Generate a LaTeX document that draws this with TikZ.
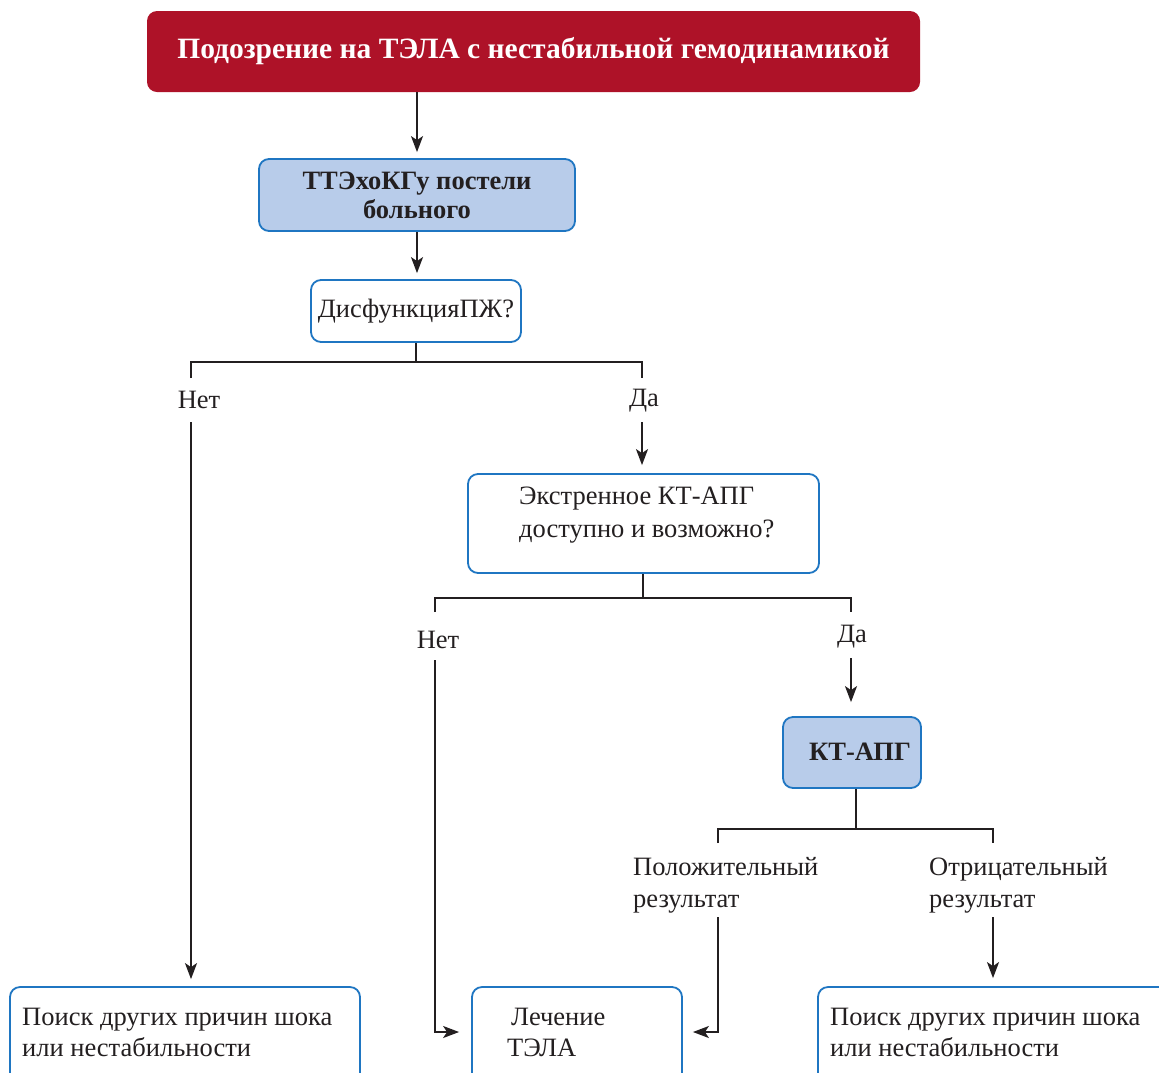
\documentclass[tikz,border=0pt]{standalone}
\usepackage{fontspec}
\setmainfont{Liberation Serif}
\usetikzlibrary{arrows.meta}
\definecolor{crimson}{HTML}{AE1228}
\definecolor{boxblue}{HTML}{1F76C2}
\definecolor{paleblue}{HTML}{B8CCEA}
\definecolor{ink}{HTML}{231F20}
\begin{document}
\begin{tikzpicture}[x=1pt,y=-1pt,
  box/.style={draw=boxblue, line width=1.8pt, rounded corners=10pt, fill=white, inner sep=0pt},
  bluebox/.style={box, fill=paleblue},
  txt/.style={font=\fontsize{26.5}{31}\selectfont, inner sep=0pt, align=left, text=ink},
  boldtxt/.style={txt, font=\fontsize{26.5}{29}\selectfont\bfseries},
  wire/.style={draw=ink, line width=1.8pt},
  arr/.style={wire, -{Stealth[length=16pt,width=12pt,inset=4pt]}}
]
\clip (0,0) rectangle (1159,1072);
\useasboundingbox (0,0) rectangle (1159,1072);

% title
\node[fill=crimson, rounded corners=10pt, minimum width=773pt, minimum height=81pt,
      text=white, font=\fontsize{29.5}{34}\selectfont\bfseries] (top) at (533.5,51.5)
      {Подозрение на ТЭЛА с нестабильной гемодинамикой};

% bedside echo
\node[bluebox, minimum width=316pt, minimum height=72pt, boldtxt, align=center] (echo) at (417,195)
      {ТТЭхоКГу постели\\больного};
\node[box, minimum width=210pt, minimum height=62pt, txt] (rv) at (416,311) {ДисфункцияПЖ?};

\node[txt] (no1) at (199,400) {Нет};
\node[txt] (yes1) at (644,401) {Да};

% CT availability
\node[box, minimum width=351pt, minimum height=99pt] (q2) at (643.5,523.5) {};
\node[txt, anchor=west, font=\fontsize{26.5}{33}\selectfont] (q2t) at (519,515.5) {Экстренное КТ-АПГ\\доступно и возможно?};

\node[txt] (no2) at (438,640) {Нет};
\node[txt] (yes2) at (852,637) {Да};

% CT
\node[bluebox, minimum width=138pt, minimum height=71pt] (ct) at (852,752.5) {};
\node[boldtxt] (ctt) at (860,752) {КТ-АПГ};

\node[txt, anchor=west, font=\fontsize{26.5}{32}\selectfont] (pos) at (633,885.5) {Положительный\\результат};
\node[txt, anchor=west, font=\fontsize{26.5}{32}\selectfont] (neg) at (929,885.5) {Отрицательный\\результат};

% outcomes
\node[box, minimum width=350pt, minimum height=113pt] (outl) at (185,1043.5) {};
\node[txt, anchor=west] (outlt) at (22,1032) {Поиск других причин шока\\или нестабильности};
\node[box, minimum width=210pt, minimum height=113pt] (outm) at (577,1043.5) {};
\node[txt, anchor=west] (outmt) at (507,1032) {\hspace*{4pt}Лечение\\ТЭЛА};
\node[box, minimum width=357pt, minimum height=113pt] (outr) at (996.5,1043.5) {};
\node[txt, anchor=west] (outrt) at (830,1032) {Поиск других причин шока\\или нестабильности};

% connectors
\draw[arr, shorten >=6pt] (top.south -| echo) -- (echo.north);
\draw[arr, shorten >=6pt] (echo.south) -- (echo.south |- rv.north);

\coordinate (j1) at (416,362);
\coordinate (j1l) at (191,362);
\coordinate (j1r) at (642,362);
\draw[wire] (rv.south) -- (j1);
\draw[wire] (j1l) ++(0,16) -- (j1l) -- (j1r) -- ++(0,16);
\coordinate (n1) at (191,422);
\coordinate (y1) at (642,422);
\draw[arr, shorten >=7pt] (n1) -- (n1 |- outl.north);
\draw[arr, shorten >=8pt] (y1) -- (y1 |- q2.north);

\coordinate (j2) at (643,598);
\coordinate (j2l) at (435,598);
\coordinate (j2r) at (851,598);
\draw[wire] (q2.south -| j2) -- (j2);
\draw[wire] (j2l) ++(0,14) -- (j2l) -- (j2r) -- ++(0,14);
\coordinate (n2) at (435,660);
\coordinate (y2) at (851,658);
\draw[arr, shorten >=12pt] (n2) -- (n2 |- outmt) -- (outm.west |- outmt);
\draw[arr, shorten >=14pt] (y2) -- (y2 |- ct.north);

\coordinate (j3) at (856,829);
\coordinate (j3l) at (718,829);
\coordinate (j3r) at (993,829);
\draw[wire] (ct.south -| j3) -- (j3);
\draw[wire] (j3l) ++(0,14) -- (j3l) -- (j3r) -- ++(0,14);
\coordinate (p1) at (718,917);
\coordinate (m1) at (993,917);
\draw[arr, shorten >=10pt] (p1) -- (p1 |- outmt) -- (outm.east |- outmt);
\draw[arr, shorten >=8pt] (m1) -- (m1 |- outr.north);
\end{tikzpicture}
\end{document}
